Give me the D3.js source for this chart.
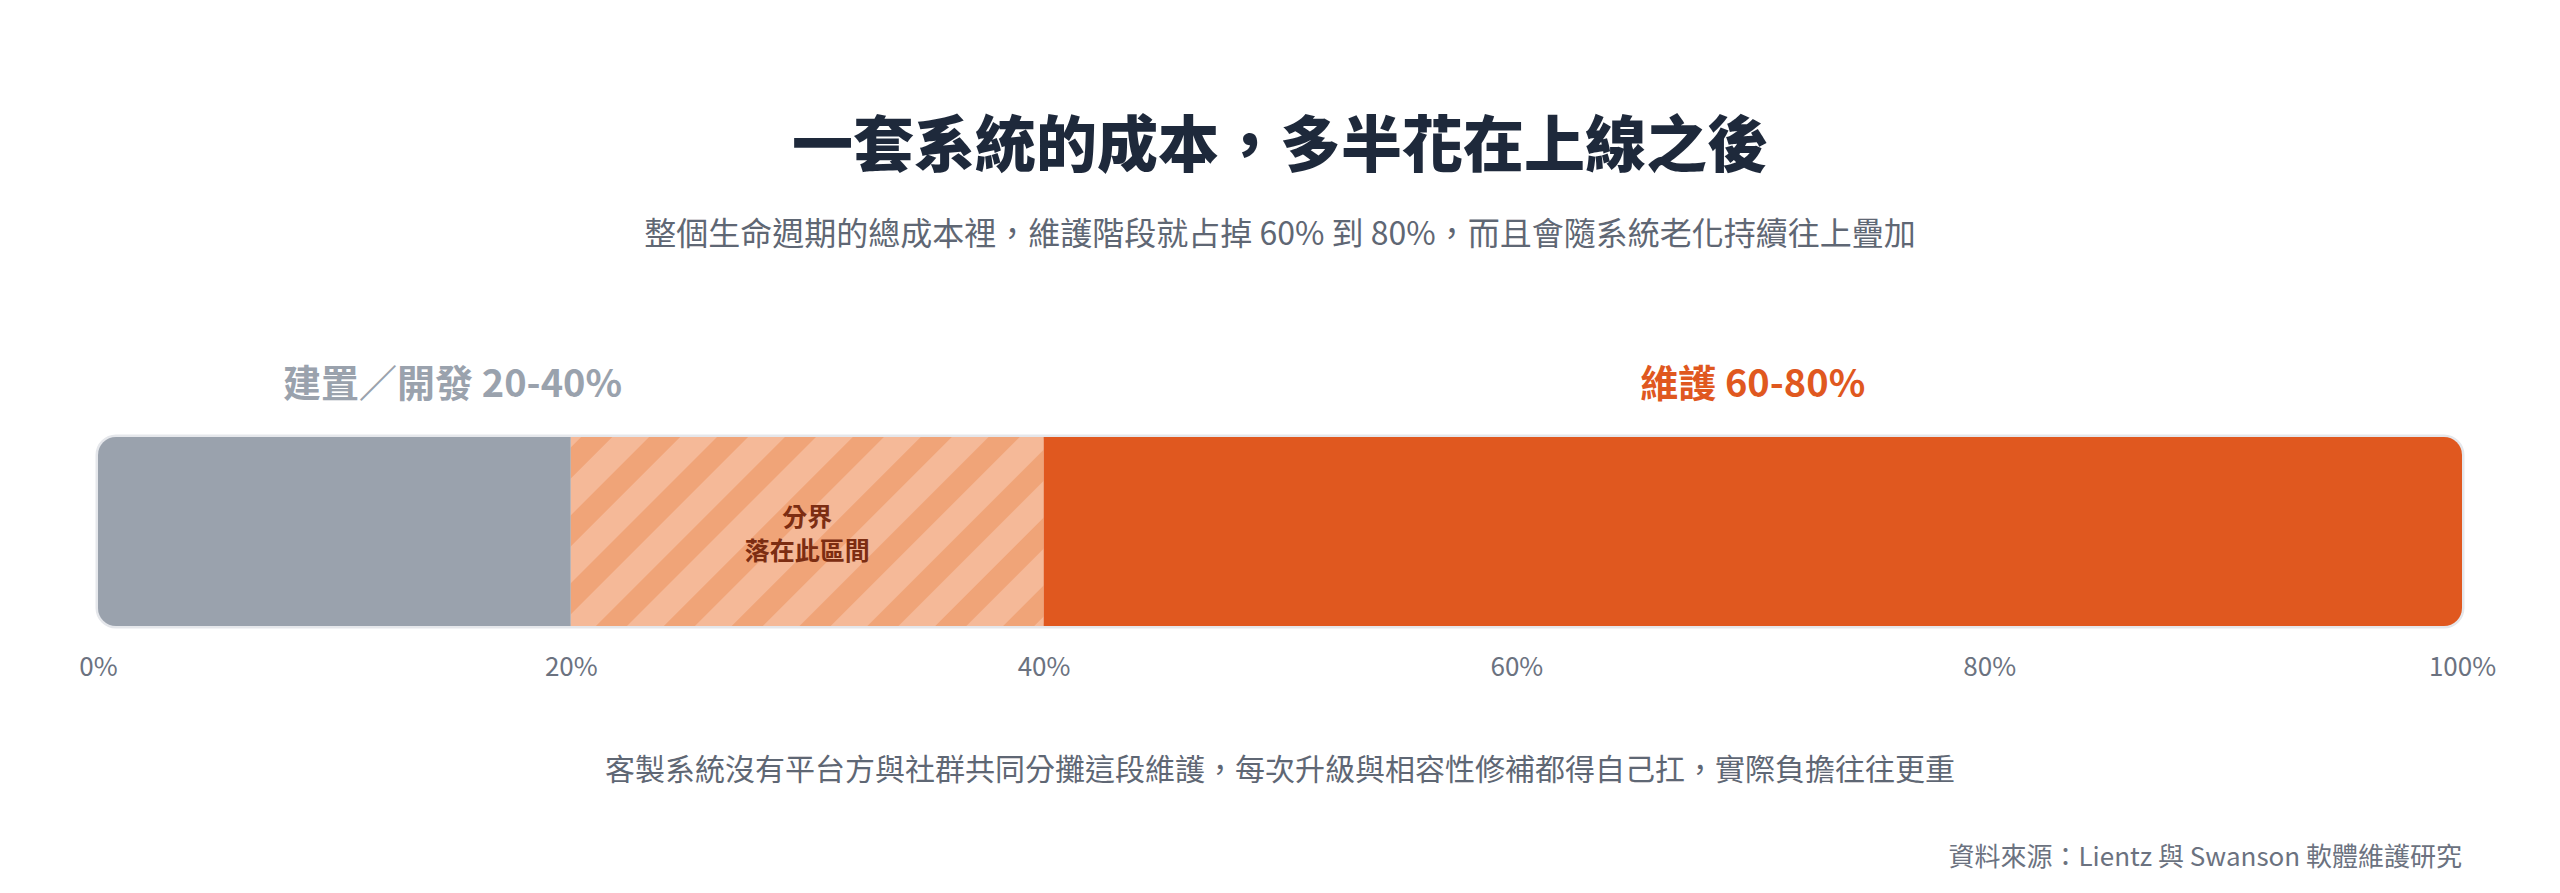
<!DOCTYPE html>
<html lang="zh-Hant">
<head>
<meta charset="utf-8">
<script src="https://cdn.jsdelivr.net/npm/d3@7"></script>
<style>
  html, body { margin: 0; padding: 0; background: #fff; }
  svg { display: block; font-family: "Noto Sans CJK TC", "Noto Sans CJK SC", sans-serif; }
</style>
</head>
<body>
<div id="chart"></div>
<script>
// lifecycle cost split, in % of total cost
const segmentNames = ["建置／開發", "分界區間", "維護"];
const segmentFrom = [0, 20, 40];
const segmentTo = [20, 40, 100];

const rangeLabels = ["建置／開發 20-40%", "維護 60-80%"];
const rangeLabelAt = [15, 70];

const boundaryLines = ["分界", "落在此區間"];
const tickValues = [0, 20, 40, 60, 80, 100];

const titleText = "一套系統的成本，多半花在上線之後";
const subtitleText = "整個生命週期的總成本裡，維護階段就占掉 60% 到 80%，而且會隨系統老化持續往上疊加";
const noteText = "客製系統沒有平台方與社群共同分攤這段維護，每次升級與相容性修補都得自己扛，實際負擔往往更重";
const sourceText = "資料來源：Lientz 與 Swanson 軟體維護研究";

const width = 2560;
const height = 893;
const barTop = 437;
const barHeight = 189;

const svg = d3.select("#chart")
  .append("svg")
  .attr("width", width)
  .attr("height", height)
  .attr("viewBox", [0, 0, width, height]);

const x = d3.scaleLinear()
  .domain([0, 100])
  .range([98, 2462]);

// stripe pattern for the boundary zone
const defs = svg.append("defs");
const pattern = defs.append("pattern")
  .attr("id", "stripes")
  .attr("patternUnits", "userSpaceOnUse")
  .attr("width", 48)
  .attr("height", 48)
  .attr("patternTransform", "rotate(45)");
pattern.append("rect").attr("width", 48).attr("height", 48).attr("fill", "#f5b998");
pattern.append("rect").attr("width", 22).attr("height", 48).attr("fill", "#f0a478");

defs.append("clipPath")
  .attr("id", "barClip")
  .append("rect")
  .attr("x", x(0))
  .attr("y", barTop)
  .attr("width", x(100) - x(0))
  .attr("height", barHeight)
  .attr("rx", 18);

// TITLES
svg.append("text")
  .attr("x", width / 2)
  .attr("y", 167)
  .attr("text-anchor", "middle")
  .attr("font-size", 61)
  .attr("font-weight", 900)
  .attr("fill", "#1e293b")
  .text(titleText);

svg.append("text")
  .attr("x", width / 2)
  .attr("y", 245)
  .attr("text-anchor", "middle")
  .attr("font-size", 32)
  .attr("fill", "#5f6774")
  .text(subtitleText);

// RANGE LABELS
svg.selectAll(".range-label")
  .data(rangeLabels)
  .join("text")
  .attr("class", "range-label")
  .attr("x", (d, i) => x(rangeLabelAt[i]))
  .attr("y", 397)
  .attr("text-anchor", "middle")
  .attr("font-size", 38)
  .attr("font-weight", 700)
  .attr("fill", (d, i) => i === 0 ? "#9aa2ad" : "#e0581f")
  .text(d => d);

// BAR OUTLINE
svg.append("rect")
  .attr("x", x(0))
  .attr("y", barTop)
  .attr("width", x(100) - x(0))
  .attr("height", barHeight)
  .attr("rx", 18)
  .attr("fill", "#fff")
  .attr("stroke", "#e5e7eb")
  .attr("stroke-width", 5);

// SEGMENTS
const segFill = ["#9aa2ad", "url(#stripes)", "#e0581f"];
svg.append("g")
  .attr("clip-path", "url(#barClip)")
  .selectAll("rect")
  .data(segmentNames)
  .join("rect")
  .attr("x", (d, i) => x(segmentFrom[i]))
  .attr("y", barTop)
  .attr("width", (d, i) => x(segmentTo[i]) - x(segmentFrom[i]))
  .attr("height", barHeight)
  .attr("fill", (d, i) => segFill[i]);

// boundary note inside the striped zone
svg.append("g")
  .selectAll("text")
  .data(boundaryLines)
  .join("text")
  .attr("x", x((segmentFrom[1] + segmentTo[1]) / 2))
  .attr("y", (d, i) => 526 + i * 34)
  .attr("text-anchor", "middle")
  .attr("font-size", 25)
  .attr("font-weight", 700)
  .attr("fill", "#7c2d12")
  .text(d => d);

// AXIS
const axis = svg.append("g")
  .attr("transform", `translate(0, ${barTop + barHeight})`)
  .call(d3.axisBottom(x)
    .tickValues(tickValues)
    .tickFormat(d => d + "%")
    .tickSize(0)
    .tickPadding(32));
axis.select(".domain").remove();
axis.selectAll("text")
  .attr("font-size", 26)
  .attr("font-family", "\"Noto Sans CJK TC\", sans-serif")
  .attr("fill", "#6b7280");

// NOTES
svg.append("text")
  .attr("x", width / 2)
  .attr("y", 780)
  .attr("text-anchor", "middle")
  .attr("font-size", 30)
  .attr("fill", "#5f6774")
  .text(noteText);

svg.append("text")
  .attr("x", x(100))
  .attr("y", 866)
  .attr("text-anchor", "end")
  .attr("font-size", 26)
  .attr("fill", "#6b7280")
  .text(sourceText);
</script>
</body>
</html>
